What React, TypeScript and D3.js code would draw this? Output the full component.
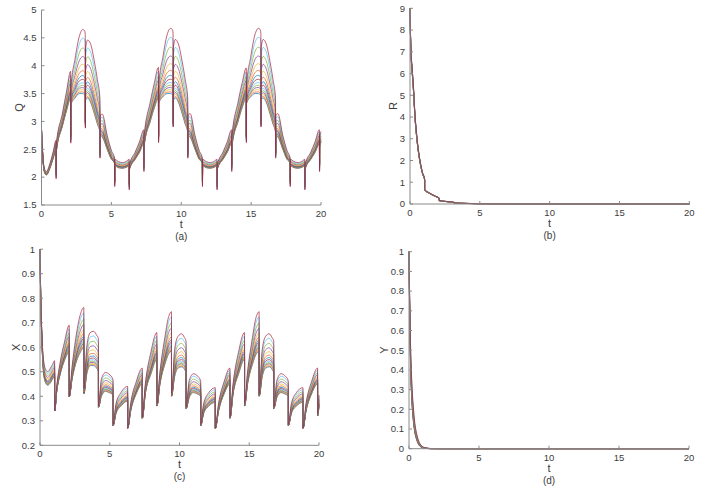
import * as d3 from 'd3'

// MATLAB default line colours, cycled over the 14 runs
const palette = ['#0072BD', '#D95319', '#EDB120', '#7E2F8E', '#77AC30', '#4DBEEE', '#A2142F']

// peak heights of the 14 runs in panel (a), lowest to highest -> relative spread of each run
const peakLevels = [3.47, 3.5, 3.54, 3.58, 3.62, 3.67, 3.73, 3.8, 3.89, 4.01, 4.15, 4.31, 4.49, 4.65]

const tTicks = [0, 5, 10, 15, 20]

// (a) Q : highest run / lowest run
const qT = [0, 0.08, 0.2, 0.35, 0.6, 0.85, 1.037, 1.047, 1.057, 1.5, 1.8, 2.084, 2.094, 2.104, 2.4, 2.7, 2.95, 3.08, 3.132, 3.142, 3.152, 3.3, 3.5, 3.8, 4.0, 4.179, 4.189, 4.199, 4.35, 4.7, 5.0, 5.226, 5.236, 5.246, 5.5, 5.8, 6.1,
  6.273, 6.283, 6.293, 6.703, 7.003, 7.32, 7.33, 7.34, 7.783, 8.083, 8.367, 8.377, 8.387, 8.683, 8.983, 9.233, 9.363, 9.415, 9.425, 9.435, 9.583, 9.783, 10.083, 10.283, 10.462, 10.472, 10.482, 10.633, 10.983, 11.283, 11.509, 11.519, 11.529, 11.783, 12.083, 12.383,
  12.556, 12.566, 12.576, 12.986, 13.286, 13.604, 13.614, 13.624, 14.066, 14.366, 14.651, 14.661, 14.671, 14.966, 15.266, 15.516, 15.646, 15.698, 15.708, 15.718, 15.866, 16.066, 16.366, 16.566, 16.745, 16.755, 16.765, 16.916, 17.266, 17.566, 17.792, 17.802, 17.812, 18.066, 18.366, 18.666,
  18.84, 18.85, 18.86, 19.27, 19.57, 19.887, 19.897, 19.907, 20]
const qHi = [2.85, 2.45, 2.16, 2.1, 2.24, 2.47, 2.66, 1.97, 2.58, 3.15, 3.55, 3.9, 2.61, 3.6, 4.12, 4.52, 4.65, 4.63, 4.56, 2.88, 4.3, 4.46, 4.4, 4.05, 3.75, 3.42, 2.34, 3.1, 3.13, 2.75, 2.48, 2.34, 1.83, 2.32, 2.28, 2.26, 2.29,
  2.32, 1.77, 2.22, 2.45, 2.63, 2.85, 2.1, 2.72, 3.35, 3.7, 3.97, 2.62, 3.65, 4.15, 4.55, 4.67, 4.65, 4.58, 2.9, 4.32, 4.47, 4.4, 4.05, 3.75, 3.42, 2.34, 3.1, 3.14, 2.75, 2.48, 2.34, 1.83, 2.32, 2.28, 2.26, 2.29,
  2.32, 1.77, 2.22, 2.45, 2.63, 2.85, 2.1, 2.72, 3.35, 3.7, 3.96, 2.62, 3.65, 4.15, 4.55, 4.67, 4.65, 4.58, 2.9, 4.32, 4.47, 4.4, 4.05, 3.75, 3.42, 2.34, 3.1, 3.14, 2.75, 2.48, 2.34, 1.83, 2.32, 2.28, 2.26, 2.29,
  2.32, 1.77, 2.22, 2.45, 2.63, 2.85, 2.1, 2.72, 2.82]
const qLo = [2.85, 2.42, 2.1, 2.04, 2.16, 2.35, 2.5, 2.1, 2.45, 2.92, 3.2, 3.41, 2.75, 3.3, 3.42, 3.5, 3.5, 3.48, 3.45, 3.0, 3.38, 3.42, 3.35, 3.12, 2.95, 2.8, 2.45, 2.75, 2.72, 2.5, 2.32, 2.25, 1.95, 2.2, 2.17, 2.16, 2.18,
  2.2, 1.9, 2.14, 2.32, 2.44, 2.6, 2.25, 2.55, 3.0, 3.25, 3.42, 2.75, 3.32, 3.44, 3.5, 3.5, 3.48, 3.45, 3.0, 3.38, 3.42, 3.35, 3.12, 2.95, 2.8, 2.45, 2.75, 2.72, 2.5, 2.32, 2.25, 1.95, 2.2, 2.17, 2.16, 2.18,
  2.2, 1.9, 2.14, 2.32, 2.44, 2.6, 2.25, 2.55, 3.0, 3.25, 3.42, 2.75, 3.32, 3.44, 3.5, 3.5, 3.48, 3.45, 3.0, 3.38, 3.42, 3.35, 3.12, 2.95, 2.8, 2.45, 2.75, 2.72, 2.5, 2.32, 2.25, 1.95, 2.2, 2.17, 2.16, 2.18,
  2.2, 1.9, 2.14, 2.32, 2.44, 2.6, 2.25, 2.55, 2.62]
const qTicks = [1.5, 2, 2.5, 3, 3.5, 4, 4.5, 5]

// (b) R
const rT = [0, 0.03, 0.07, 0.15, 0.24, 0.36, 0.48, 0.6, 0.79, 0.9, 1.047, 1.05, 1.3, 1.6, 1.9, 2.094, 2.097, 2.6, 3.142, 3.145, 4.0, 5.0, 7.0, 10, 20]
const rHi = [9, 8.0, 7.1, 6.3, 5.5, 4.1, 3.2, 2.5, 1.75, 1.45, 1.15, 0.68, 0.55, 0.44, 0.34, 0.28, 0.16, 0.12, 0.08, 0.05, 0.03, 0.015, 0.005, 0, 0]
const rLo = [9, 7.9, 6.95, 6.1, 5.3, 3.95, 3.05, 2.4, 1.68, 1.38, 1.1, 0.64, 0.52, 0.41, 0.32, 0.26, 0.15, 0.11, 0.07, 0.04, 0.025, 0.01, 0.003, 0, 0]
const rTicks = [0, 1, 2, 3, 4, 5, 6, 7, 8, 9]

// (c) X
const xT = [0, 0.05, 0.12, 0.25, 0.4, 0.55, 0.75, 0.9, 1.047, 1.05, 1.2, 1.45, 1.75, 2.094, 2.097, 2.3, 2.6, 2.9, 3.142, 3.145, 3.35, 3.6, 3.85, 4.05, 4.189, 4.192, 4.4, 4.7, 4.95, 5.236, 5.239, 5.45, 5.8, 6.283, 6.286, 6.5, 6.9,
  7.33, 7.333, 7.55, 7.95, 8.378, 8.381, 8.6, 8.95, 9.2, 9.425, 9.428, 9.65, 9.9, 10.15, 10.35, 10.472, 10.475, 10.7, 11.0, 11.25, 11.519, 11.522, 11.73, 12.1, 12.566, 12.569, 12.8, 13.2,
  13.614, 13.617, 13.84, 14.23, 14.661, 14.664, 14.88, 15.23, 15.48, 15.708, 15.711, 15.93, 16.18, 16.43, 16.63, 16.755, 16.758, 16.98, 17.28, 17.53, 17.802, 17.805, 18.02, 18.38, 18.85, 18.853, 19.07, 19.47, 19.897, 19.9, 20]
const xHi = [1, 0.82, 0.68, 0.55, 0.51, 0.5, 0.515, 0.53, 0.545, 0.34, 0.44, 0.54, 0.62, 0.69, 0.4, 0.52, 0.65, 0.735, 0.762, 0.43, 0.6, 0.66, 0.665, 0.65, 0.635, 0.36, 0.47, 0.497, 0.49, 0.468, 0.285, 0.37, 0.415, 0.44, 0.27, 0.37, 0.46,
  0.515, 0.315, 0.45, 0.58, 0.66, 0.37, 0.5, 0.64, 0.72, 0.745, 0.41, 0.59, 0.645, 0.655, 0.64, 0.625, 0.355, 0.465, 0.492, 0.485, 0.463, 0.285, 0.37, 0.415, 0.435, 0.27, 0.37, 0.46,
  0.515, 0.315, 0.45, 0.58, 0.66, 0.37, 0.5, 0.64, 0.72, 0.745, 0.41, 0.59, 0.645, 0.655, 0.64, 0.625, 0.355, 0.465, 0.492, 0.485, 0.463, 0.285, 0.37, 0.415, 0.435, 0.27, 0.37, 0.46, 0.515, 0.33, 0.405]
const xLo = [1, 0.8, 0.65, 0.5, 0.455, 0.445, 0.455, 0.47, 0.48, 0.34, 0.42, 0.49, 0.545, 0.58, 0.4, 0.47, 0.54, 0.58, 0.6, 0.41, 0.49, 0.525, 0.525, 0.515, 0.5, 0.355, 0.4, 0.42, 0.415, 0.405, 0.28, 0.33, 0.36, 0.38, 0.27, 0.34, 0.41,
  0.45, 0.31, 0.41, 0.49, 0.55, 0.36, 0.45, 0.53, 0.57, 0.585, 0.4, 0.48, 0.515, 0.52, 0.51, 0.495, 0.35, 0.395, 0.415, 0.41, 0.4, 0.28, 0.33, 0.36, 0.375, 0.27, 0.34, 0.41,
  0.45, 0.31, 0.41, 0.49, 0.55, 0.36, 0.45, 0.53, 0.57, 0.585, 0.4, 0.48, 0.515, 0.52, 0.51, 0.495, 0.35, 0.395, 0.415, 0.41, 0.4, 0.28, 0.33, 0.36, 0.375, 0.27, 0.34, 0.41, 0.45, 0.32, 0.36]
const xTicks = [0.2, 0.3, 0.4, 0.5, 0.6, 0.7, 0.8, 0.9, 1]

// (d) Y
const yT = [0, 0.03, 0.07, 0.12, 0.2, 0.3, 0.4, 0.55, 0.7, 0.9, 1.2, 1.6, 2.5, 20]
const yHi = [1, 0.85, 0.68, 0.5, 0.34, 0.22, 0.14, 0.075, 0.038, 0.015, 0.004, 0.001, 0, 0]
const yLo = [1, 0.8, 0.58, 0.4, 0.25, 0.15, 0.09, 0.045, 0.02, 0.007, 0.002, 0, 0, 0]
const yTicks = [0, 0.1, 0.2, 0.3, 0.4, 0.5, 0.6, 0.7, 0.8, 0.9, 1]

const panels = [
  { tag: '(a)', name: 'Q', t: qT, hi: qHi, lo: qLo, dom: [1.5, 5], ticks: qTicks, x0: 41.5, x1: 321, y0: 10, y1: 205, lx: 22.5 },
  { tag: '(b)', name: 'R', t: rT, hi: rHi, lo: rLo, dom: [0, 9], ticks: rTicks, x0: 410, x1: 689.3, y0: 8.3, y1: 204, lx: 396.5 },
  { tag: '(c)', name: 'X', t: xT, hi: xHi, lo: xLo, dom: [0.2, 1], ticks: xTicks, x0: 40, x1: 319, y0: 249.2, y1: 445.3, lx: 20 },
  { tag: '(d)', name: 'Y', t: yT, hi: yHi, lo: yLo, dom: [0, 1], ticks: yTicks, x0: 409, x1: 689, y0: 251.7, y1: 448.7, lx: 388 },
]

const axisColor = '#8a8a8a'
const textColor = '#3c3c3c'
const font = '"Liberation Sans", Arial, Helvetica, sans-serif'

function Panel({ p }) {
  const x = d3.scaleLinear().domain([0, 20]).range([p.x0, p.x1])
  const y = d3.scaleLinear().domain(p.dom).range([p.y1, p.y0])
  const lo0 = peakLevels[0]
  const span = peakLevels[peakLevels.length - 1] - lo0
  const line = d3.line<number>()
    .x((_, j) => x(p.t[j]))
    .y(v => y(v))
    .curve(d3.curveMonotoneX)
  const fmt = (v: number) => String(Math.round(v * 10) / 10)
  const cx = (p.x0 + p.x1) / 2

  return (
    <g>
      {peakLevels.map((lvl, i) => {
        const f = (lvl - lo0) / span
        const vals = p.hi.map((h, j) => p.lo[j] + f * (h - p.lo[j]))
        return (
          <path key={i} d={line(vals) || ''} fill="none" stroke={palette[i % 7]}
            strokeWidth={0.9} strokeOpacity={0.75} />
        )
      })}
      <line x1={p.x0} x2={p.x0} y1={p.y0} y2={p.y1} stroke={axisColor} strokeWidth={1} />
      <line x1={p.x0} x2={p.x1} y1={p.y1} y2={p.y1} stroke={axisColor} strokeWidth={1} />
      {p.ticks.map(v => (
        <g key={'y' + v}>
          <line x1={p.x0} x2={p.x0 + 3} y1={y(v)} y2={y(v)} stroke={axisColor} />
          <text x={p.x0 - 5} y={y(v)} dy="0.35em" textAnchor="end" fontSize={9.5} fill={textColor} fontFamily={font}>{fmt(v)}</text>
        </g>
      ))}
      {tTicks.map(v => (
        <g key={'x' + v}>
          <line x1={x(v)} x2={x(v)} y1={p.y1} y2={p.y1 - 3} stroke={axisColor} />
          <text x={x(v)} y={p.y1 + 12} textAnchor="middle" fontSize={9.5} fill={textColor} fontFamily={font}>{v}</text>
        </g>
      ))}
      <text x={cx} y={p.y1 + 23} textAnchor="middle" fontSize={11} fill={textColor} fontFamily={font}>t</text>
      <text x={cx} y={p.y1 + 35} textAnchor="middle" fontSize={10} fill={textColor} fontFamily={font}>{p.tag}</text>
      <text transform={`translate(${p.lx},${(p.y0 + p.y1) / 2}) rotate(-90)`} textAnchor="middle"
        fontSize={11} fill={textColor} fontFamily={font}>{p.name}</text>
    </g>
  )
}

export default function App() {
  return (
    <svg width={712} height={492} style={{ position: 'absolute', left: 0, top: 0, background: '#fff' }}>
      <rect width={712} height={492} fill="#fff" />
      {panels.map(p => <Panel key={p.tag} p={p} />)}
    </svg>
  )
}
